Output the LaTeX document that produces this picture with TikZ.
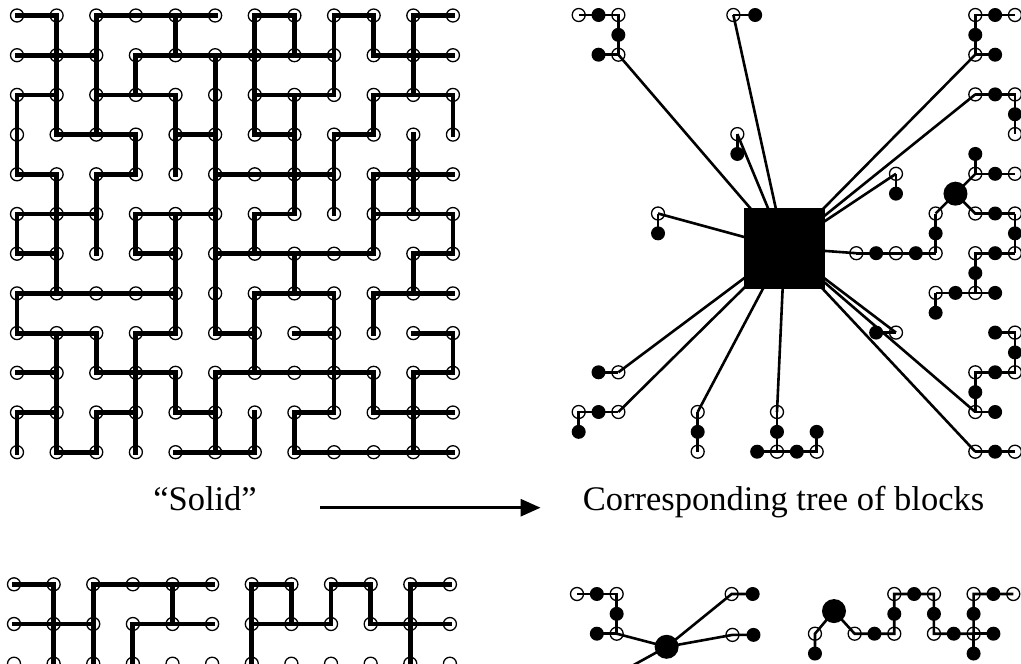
\documentclass[tikz,border=0pt]{standalone}
\usepackage{fontspec}
\setmainfont{Liberation Serif}
\usetikzlibrary{arrows.meta}
\begin{document}
\begin{tikzpicture}[x=1pt,y=-1pt,
  oc/.style={circle,draw,line width=1.3pt,minimum size=13pt,inner sep=0pt},
  fc/.style={circle,fill,minimum size=14pt,inner sep=0pt},
  bc/.style={circle,fill,minimum size=24pt,inner sep=0pt},
  sqbox/.style={rectangle,fill,minimum size=81pt,inner sep=0pt},
  gl/.style={line width=4.8pt,line cap=rect},
  tl/.style={line width=2.6pt},
  txt/.style={font=\fontsize{34.5}{40}\selectfont,inner sep=0pt},
  arr/.style={line width=3pt,-{Triangle[length=20pt,width=17pt]}}]
\fill[white] (0,0) rectangle (1021,664);
\useasboundingbox (0,0) rectangle (1021,664);
\clip (0,0) rectangle (1021,664);

% ---------------- top-left grid ("Solid")
\begin{scope}[xshift=17pt,yshift=-15.5pt,x=39.63pt,y=-39.7pt]
\foreach \i in {0,...,11}{\foreach \j in {0,...,11}{\node[oc] (L-\i-\j) at (\i,\j) {};}}
\foreach \r/\a/\b in {0/0/1,0/2/5,0/6/7,0/8/9,0/10/11, 1/0/2,1/3/8,1/9/11,
  2/0/1,2/2/4,2/6/8,2/9/11, 3/1/3,3/4/5,3/6/7,3/8/9, 4/0/1,4/2/3,4/5/8,4/9/11,
  5/0/2,5/3/5,5/6/7,5/9/11, 6/0/1,6/3/4,6/5/9,6/10/11, 7/0/4,7/6/8,7/9/11,
  8/0/2,8/3/4,8/5/6,8/7/8,8/10/11, 9/0/1,9/2/4,9/5/9,9/10/11,
  10/0/1,10/2/3,10/4/5,10/7/8,10/9/11, 11/1/2,11/4/6,11/7/11}
  {\draw[gl] (L-\a-\r.center) -- (L-\b-\r.center);}
\foreach \c/\a/\b in {0/2/4,0/5/6,0/7/8,0/10/11, 1/0/3,1/4/7,1/8/11,
  2/0/3,2/4/6,2/8/9,2/10/11, 3/1/2,3/3/4,3/5/6,3/8/11, 4/0/1,4/2/4,4/5/8,4/9/10,
  5/1/8,5/9/11, 6/0/3,6/5/6,6/7/9,6/10/11, 7/0/1,7/2/5,7/6/7,7/10/11,
  8/0/2,8/3/5,8/7/10, 9/0/1,9/2/3,9/4/6,9/7/8,9/9/10, 10/0/2,10/3/5,10/6/7,10/9/11,
  11/2/3,11/5/6,11/8/9}
  {\draw[gl] (L-\c-\a.center) -- (L-\c-\b.center);}
\end{scope}

% ---------------- top-right tree of blocks
\node[sqbox] (sq) at (784.5,248) {};
\begin{scope}[xshift=578.7pt,yshift=-15pt,x=39.66pt,y=-39.7pt]
\node[oc] (t1a) at (0,0) {};
\node[fc] (t1b) at (0.5,0) {};
\node[oc] (t1c) at (1,0) {};
\node[fc] (t1d) at (1,0.5) {};
\node[oc] (t1e) at (1,1) {};
\node[fc] (t1f) at (0.5,1) {};
\draw[tl] (t1a.center) -- (t1b.center) -- (t1c.center) -- (t1d.center) -- (t1e.center) -- (t1f.center);
\draw[tl] (t1e.center) -- (sq.center);
\node[oc] (t2a) at (3.9,0) {};
\node[fc] (t2b) at (4.45,0) {};
\draw[tl] (t2a.center) -- (t2b.center);
\draw[tl] (t2a.center) -- (sq.center);
\node[oc] (t3a) at (4,3) {};
\node[fc] (t3b) at (4,3.5) {};
\draw[tl] (t3a.center) -- (t3b.center);
\draw[tl] (t3a.center) -- (sq.center);
\node[oc] (t4a) at (2,5) {};
\node[fc] (t4b) at (2,5.5) {};
\draw[tl] (t4a.center) -- (t4b.center);
\draw[tl] (t4a.center) -- (sq.center);
\node[oc] (t5a) at (10,0) {};
\node[fc] (t5b) at (10.5,0) {};
\node[oc] (t5c) at (11,0) {};
\node[fc] (t5d) at (10,0.5) {};
\node[oc] (t5e) at (10,1) {};
\node[fc] (t5f) at (10.5,1) {};
\draw[tl] (t5c.center) -- (t5b.center) -- (t5a.center) -- (t5d.center) -- (t5e.center) -- (t5f.center);
\draw[tl] (t5e.center) -- (sq.center);
\node[oc] (t6a) at (10,2) {};
\node[fc] (t6b) at (10.5,2) {};
\node[oc] (t6c) at (11,2) {};
\node[fc] (t6d) at (11,2.5) {};
\node[oc] (t6e) at (11,3) {};
\draw[tl] (t6a.center) -- (t6b.center) -- (t6c.center) -- (t6d.center) -- (t6e.center);
\draw[tl] (t6a.center) -- (sq.center);
\node[oc] (t7a) at (8,4) {};
\node[fc] (t7b) at (8,4.5) {};
\draw[tl] (t7a.center) -- (t7b.center);
\draw[tl] (t7a.center) -- (sq.center);
% big block
\node[bc] (t8B) at (9.5,4.5) {};
\node[fc] (t8a) at (10,3.5) {};
\node[oc] (t8b) at (10,4) {};
\node[fc] (t8c) at (10.5,4) {};
\node[oc] (t8d) at (11,4) {};
\node[oc] (t8e) at (9,5) {};
\node[oc] (t8f) at (10,5) {};
\node[fc] (t8g) at (10.5,5) {};
\node[oc] (t8h) at (11,5) {};
\node[fc] (t8i) at (9,5.5) {};
\node[fc] (t8j) at (11,5.5) {};
\node[oc] (t8k) at (7,6) {};
\node[fc] (t8l) at (7.5,6) {};
\node[oc] (t8m) at (8,6) {};
\node[fc] (t8n) at (8.5,6) {};
\node[oc] (t8o) at (9,6) {};
\node[oc] (t8p) at (10,6) {};
\node[fc] (t8q) at (10.5,6) {};
\node[oc] (t8r) at (11,6) {};
\node[fc] (t8s) at (10,6.5) {};
\node[oc] (t8t) at (10,7) {};
\node[fc] (t8u) at (9.5,7) {};
\node[oc] (t8v) at (9,7) {};
\node[fc] (t8w) at (10.5,7) {};
\node[fc] (t8x) at (9,7.5) {};
\draw[tl] (t8a.center) -- (t8b.center) -- (t8c.center) -- (t8d.center);
\draw[tl] (t8B.center) -- (t8b.center);
\draw[tl] (t8B.center) -- (t8e.center);
\draw[tl] (t8B.center) -- (t8f.center) -- (t8g.center) -- (t8h.center);
\draw[tl] (t8e.center) -- (t8i.center) -- (t8o.center);
\draw[tl] (t8h.center) -- (t8j.center) -- (t8r.center);
\draw[tl] (t8k.center) -- (t8l.center) -- (t8m.center) -- (t8n.center) -- (t8o.center);
\draw[tl] (t8r.center) -- (t8q.center) -- (t8p.center) -- (t8s.center) -- (t8t.center);
\draw[tl] (t8v.center) -- (t8u.center) -- (t8t.center) -- (t8w.center);
\draw[tl] (t8v.center) -- (t8x.center);
\draw[tl] (t8k.center) -- (sq.center);
\node[fc] (t9a) at (10.5,8) {};
\node[oc] (t9b) at (11,8) {};
\node[fc] (t9c) at (11,8.5) {};
\node[oc] (t9d) at (11,9) {};
\node[fc] (t9e) at (10.5,9) {};
\node[oc] (t9f) at (10,9) {};
\node[fc] (t9g) at (10,9.5) {};
\node[oc] (t9h) at (10,10) {};
\node[fc] (t9i) at (10.5,10) {};
\draw[tl] (t9a.center) -- (t9b.center) -- (t9c.center) -- (t9d.center) -- (t9e.center) -- (t9f.center) -- (t9g.center) -- (t9h.center) -- (t9i.center);
\draw[tl] (t9h.center) -- (sq.center);
\node[fc] (t10a) at (7.5,8) {};
\node[oc] (t10b) at (8,8) {};
\draw[tl] (t10a.center) -- (t10b.center);
\draw[tl] (t10b.center) -- (sq.center);
\node[oc] (t11a) at (10,11) {};
\node[fc] (t11b) at (10.5,11) {};
\node[oc] (t11c) at (11,11) {};
\draw[tl] (t11a.center) -- (t11b.center) -- (t11c.center);
\draw[tl] (t11a.center) -- (sq.center);
\node[fc] (t12a) at (0.5,9) {};
\node[oc] (t12b) at (1,9) {};
\draw[tl] (t12a.center) -- (t12b.center);
\draw[tl] (t12b.center) -- (sq.center);
\node[oc] (t13a) at (0,10) {};
\node[fc] (t13b) at (0.5,10) {};
\node[oc] (t13c) at (1,10) {};
\node[fc] (t13d) at (0,10.5) {};
\draw[tl] (t13d.center) -- (t13a.center) -- (t13b.center) -- (t13c.center);
\draw[tl] (t13c.center) -- (sq.center);
\node[oc] (t14a) at (3,10) {};
\node[fc] (t14b) at (3,10.5) {};
\node[oc] (t14c) at (3,11) {};
\draw[tl] (t14a.center) -- (t14b.center) -- (t14c.center);
\draw[tl] (t14a.center) -- (sq.center);
\node[oc] (t15a) at (5,10) {};
\node[fc] (t15b) at (5,10.5) {};
\node[oc] (t15c) at (5,11) {};
\node[fc] (t15d) at (4.5,11) {};
\node[fc] (t15e) at (5.5,11) {};
\node[oc] (t15f) at (6,11) {};
\node[fc] (t15g) at (6,10.5) {};
\draw[tl] (t15a.center) -- (t15b.center) -- (t15c.center);
\draw[tl] (t15d.center) -- (t15c.center) -- (t15e.center) -- (t15f.center) -- (t15g.center);
\draw[tl] (t15a.center) -- (sq.center);
\end{scope}

% ---------------- captions and arrow
\node[txt,anchor=base] (solid) at (205,510) {“Solid”};
\node[txt,anchor=base] (corr) at (783.5,510) {Corresponding tree of blocks};
\draw[arr,shorten <=63pt,shorten >=42pt] (solid.mid east) -- (corr.mid west);

% ---------------- bottom-left grid
\begin{scope}[xshift=14pt,yshift=-584.3pt,x=39.63pt,y=-39.7pt]
\foreach \i in {0,...,11}{\foreach \j in {0,1,2}{\node[oc] (B-\i-\j) at (\i,\j) {};}}
\foreach \r/\a/\b in {0/0/1,0/2/5,0/6/7,0/8/9,0/10/11, 1/0/2,1/3/5,1/6/8,1/9/11}
  {\draw[gl] (B-\a-\r.center) -- (B-\b-\r.center);}
\foreach \c/\a/\b in {1/0/2,2/0/2,4/0/1,6/0/2,7/0/1,8/0/1,9/0/1,10/0/2,3/1/2}
  {\draw[gl] (B-\c-\a.center) -- (B-\c-\b.center);}
\end{scope}

% ---------------- bottom-right tree
\begin{scope}[xshift=577pt,yshift=-594pt,x=39.66pt,y=-39.7pt]
\node[oc] (b1a) at (0,0) {};
\node[fc] (b1b) at (0.5,0) {};
\node[oc] (b1c) at (1,0) {};
\node[fc] (b1d) at (1,0.5) {};
\node[oc] (b1e) at (1,1) {};
\node[fc] (b1f) at (0.5,1) {};
\draw[tl] (b1a.center) -- (b1b.center) -- (b1c.center) -- (b1d.center) -- (b1e.center) -- (b1f.center);
\node[bc] (bA) at (2.26,1.33) {};
\coordinate (bfree) at (0.32,2.4);
\draw[tl] (b1e.center) -- (bA.center);
\draw[tl] (bA.center) -- (bfree);
\node[oc] (b2a) at (3.9,0) {};
\node[fc] (b2b) at (4.43,0) {};
\node[oc] (b3a) at (3.92,1.03) {};
\node[fc] (b3b) at (4.45,1.03) {};
\draw[tl] (bA.center) -- (b2a.center) -- (b2b.center);
\draw[tl] (bA.center) -- (b3a.center) -- (b3b.center);
\node[bc] (bB) at (6.48,0.43) {};
\node[oc] (b4a) at (6,1) {};
\node[fc] (b4b) at (6,1.5) {};
\node[oc] (b4c) at (7,1) {};
\node[fc] (b4d) at (7.5,1) {};
\node[oc] (b4e) at (8,1) {};
\node[fc] (b4f) at (8,0.5) {};
\node[oc] (b4g) at (8,0) {};
\node[fc] (b4h) at (8.5,0) {};
\node[oc] (b4i) at (9,0) {};
\node[fc] (b4j) at (9,0.5) {};
\node[oc] (b4k) at (9,1) {};
\node[fc] (b4l) at (9.5,1) {};
\node[oc] (b4m) at (10,1) {};
\node[fc] (b4n) at (10,0.5) {};
\node[oc] (b4o) at (10,0) {};
\node[fc] (b4p) at (10.5,0) {};
\node[oc] (b4q) at (11,0) {};
\node[fc] (b4r) at (10.5,1) {};
\node[fc] (b4s) at (10,1.5) {};
\draw[tl] (bB.center) -- (b4a.center) -- (b4b.center);
\draw[tl] (bB.center) -- (b4c.center) -- (b4d.center) -- (b4e.center) -- (b4f.center) -- (b4g.center) -- (b4h.center) -- (b4i.center) -- (b4j.center) -- (b4k.center) -- (b4l.center) -- (b4m.center) -- (b4n.center) -- (b4o.center) -- (b4p.center) -- (b4q.center);
\draw[tl] (b4m.center) -- (b4r.center);
\draw[tl] (b4m.center) -- (b4s.center);
\end{scope}
\end{tikzpicture}
\end{document}
